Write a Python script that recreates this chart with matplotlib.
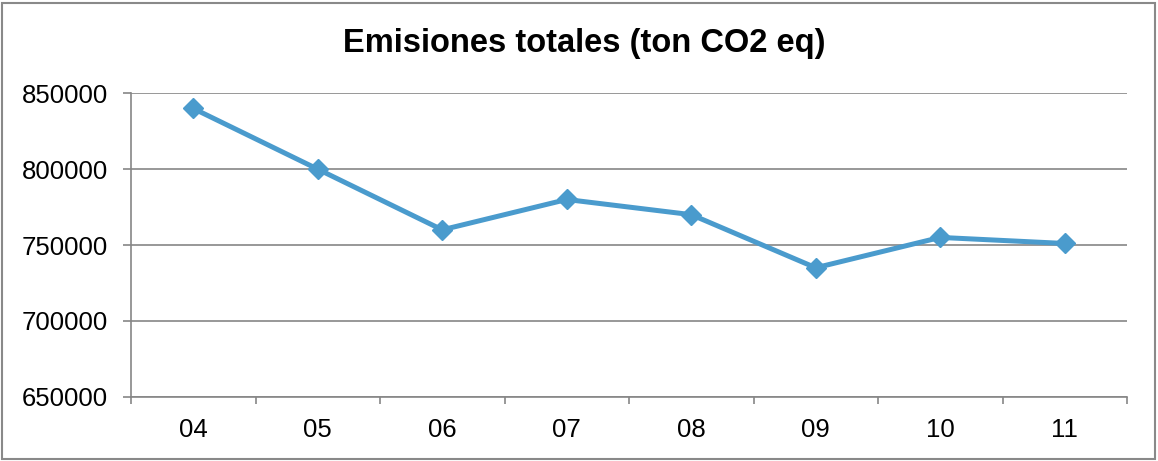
import matplotlib
matplotlib.use("Agg")
import matplotlib.pyplot as plt
from matplotlib.patches import Rectangle

plt.rcParams['font.family'] = ['Liberation Sans', 'DejaVu Sans']

categories = ["04", "05", "06", "07", "08", "09", "10", "11"]
emisiones = [840000, 800000, 760000, 780000, 770000, 735000, 755000, 751000]
yticks = [650000, 700000, 750000, 800000, 850000]

grid_col = "#868686"
line_col = "#4A9BCD"

fig = plt.figure(figsize=(11.58, 4.61), dpi=100)
ax = fig.add_axes([131/1158, 1 - 396.7/461, (1127-131)/1158, (396.7-93.3)/461])

x = list(range(len(categories)))
ax.plot(x, emisiones, color=line_col, lw=3.6, marker='D', markersize=10.5,
        markerfacecolor=line_col, markeredgecolor=line_col, markeredgewidth=1,
        zorder=3, clip_on=False)

ax.set_xlim(-0.5, len(categories) - 0.5)
ax.set_ylim(yticks[0], yticks[-1])
ax.set_yticks(yticks)
ax.set_yticklabels([str(v) for v in yticks])
ax.set_xticks(x)
ax.set_xticklabels(categories)
ax.set_xticks([i - 0.5 for i in range(len(categories) + 1)], minor=True)

ax.tick_params(axis='x', which='major', length=0, pad=15.5, labelsize=18.5)
ax.tick_params(axis='x', which='minor', length=5, width=1.2, color=grid_col, direction='out')
ax.tick_params(axis='y', which='major', length=5.8, width=1.2, color=grid_col, pad=11, labelsize=18.5)

ax.yaxis.grid(True, color=grid_col, lw=1.2)
ax.set_axisbelow(True)
for s in ['top', 'right']:
    ax.spines[s].set_visible(False)
for s in ['left', 'bottom']:
    ax.spines[s].set_color(grid_col)
    ax.spines[s].set_linewidth(1.2)

fig.text(584.5/1158, 1 - 51.7/461, "Emisiones totales (ton CO2 eq)", ha='center', va='baseline',
         fontsize=23.5, fontweight='bold')

fig.patches.append(Rectangle((2/1158, 2/461), 1153/1158, 456/461, transform=fig.transFigure,
                             fill=False, edgecolor="#898989", lw=1.5))

fig.savefig("out.png", dpi=100)
